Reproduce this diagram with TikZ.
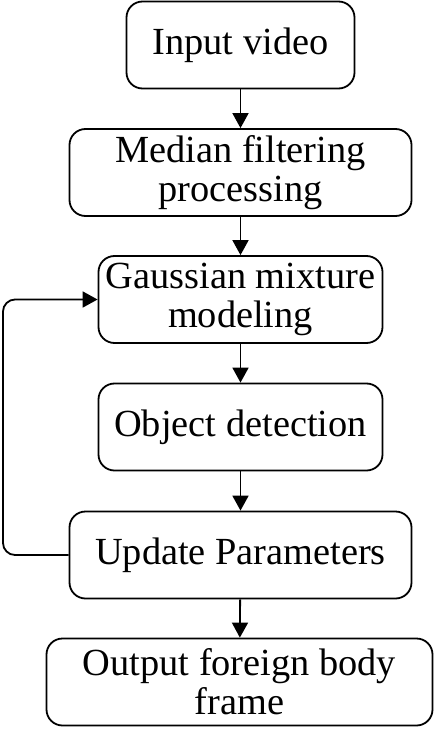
\documentclass[tikz,border=0pt]{standalone}
\usepackage{fontspec}
\setmainfont{Liberation Serif}
\usetikzlibrary{positioning,arrows.meta}

\begin{document}
\begin{tikzpicture}[x=1bp, y=-1bp,
    box/.style={draw, line width=1.8bp, rounded corners=16bp, minimum height=87bp,
      align=center, inner sep=0pt, font=\fontsize{38.5}{39}\selectfont},
    flow/.style={line width=1.8bp, -{Triangle[length=15bp,width=16bp]}}]
  \useasboundingbox (0,0) rectangle (436,729);
  \node[box, minimum width=228bp] (input) at (240.5,45) {Input video};
  \node[box, minimum width=342bp] (median) at (240.5,172.5) {Median filtering\\processing};
  \node[box, minimum width=284bp] (gmm) at (240.5,299.5) {Gaussian mixture\\modeling};
  \node[box, minimum width=284bp] (detect) at (240.5,427) {Object detection};
  \node[box, minimum width=342bp] (update) at (240.5,555) {Update Parameters};
  \node[box, minimum width=386bp] (output) at (239.5,682) {Output foreign body\\frame};
  \coordinate (loop) at (3,0);
  % main chain
  \foreach \a/\b in {input/median, median/gmm, gmm/detect, detect/update, update/output}
    \draw[flow] (\a) -- (\b);
  % feedback
  \draw[flow, rounded corners=12bp] (update.west) -- (update.west -| loop)
    -- (gmm.west -| loop) -- (gmm.west);
\end{tikzpicture}
\end{document}
